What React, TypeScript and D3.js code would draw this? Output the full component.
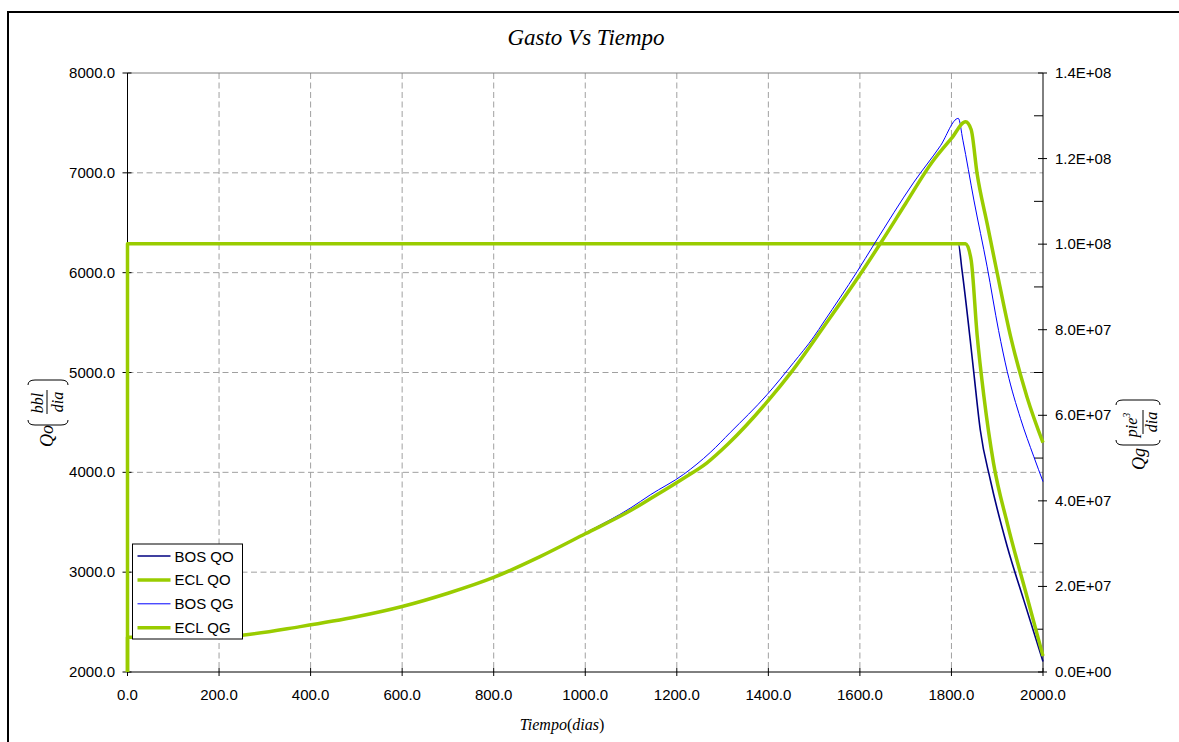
import React from "react";
import * as d3 from "d3";

// Time axis (days)
const timeTicks = [0, 200, 400, 600, 800, 1000, 1200, 1400, 1600, 1800, 2000];
// Oil-rate axis (bbl/dia)
const qoTicks = [2000, 3000, 4000, 5000, 6000, 7000, 8000];
// Gas-rate axis (pie^3/dia)
const qgTicks = [0, 2e7, 4e7, 6e7, 8e7, 1e8, 1.2e8, 1.4e8];
const qgMinorTicks = [1e7, 3e7, 5e7, 7e7, 9e7, 1.1e8, 1.3e8];

// BOS oil rate
const bosQoTime = [0, 0, 1815, 1823, 1841, 1849, 1863, 1885, 1922, 1958, 2000];
const bosQoRate = [0, 6289.8, 6289.8, 6027, 5326, 4992, 4424, 3923, 3255, 2720, 2105];

// ECL oil rate
const eclQoTime = [0, 0, 1831, 1843, 1856, 1871, 1892, 1922, 1965, 2000];
const eclQoRate = [0, 6289.8, 6289.8, 6127, 5380, 4757, 4090, 3489, 2754, 2160];

// BOS gas rate (values in millions)
const bosQgTime = [0, 0, 150, 250, 377, 500, 600, 700, 800, 900, 1000, 1100, 1142, 1215, 1273, 1317, 1397, 1455, 1499, 1521, 1594, 1630, 1718, 1776, 1815, 1825, 1849, 1878, 1903, 1922, 1951, 1980, 2000];
const bosQgRateMM = [0, 8.1, 8.1, 8.6, 10.6, 12.9, 15.3, 18.4, 22.1, 26.9, 32.5, 38.4, 41.4, 46.2, 51.3, 56.0, 64.8, 72.3, 78.3, 81.8, 93.6, 99.8, 114.5, 123.0, 129.4, 124.3, 110.3, 94.7, 79.8, 70.2, 59.2, 50.3, 44.5];

// ECL gas rate (values in millions)
const eclQgTime = [0, 0, 150, 250, 377, 500, 600, 700, 800, 900, 1000, 1100, 1142, 1215, 1266, 1313, 1401, 1448, 1521, 1601, 1645, 1700, 1758, 1800, 1831, 1843, 1856, 1878, 1900, 1929, 1965, 2000];
const eclQgRateMM = [0, 8.1, 8.1, 8.6, 10.6, 12.9, 15.3, 18.4, 22.1, 26.9, 32.3, 37.8, 40.5, 45.3, 48.9, 53.4, 63.6, 69.8, 80.7, 93.0, 100.2, 109.5, 119.2, 124.7, 128.6, 126.8, 116.5, 104.8, 93.2, 78.5, 64.3, 53.6];

const legendNames = ["BOS QO", "ECL QO", "BOS QG", "ECL QG"];

const GREEN = "#99CC00";
const NAVY = "#000080";
const BLUE = "#0000FF";

const W = 1179;
const H = 742;
const plot = { left: 127.5, right: 1043, top: 73, bottom: 672 };

const x = d3.scaleLinear().domain([0, 2000]).range([plot.left, plot.right]);
const yQo = d3.scaleLinear().domain([2000, 8000]).range([plot.bottom, plot.top]);
const yQg = d3.scaleLinear().domain([0, 1.4e8]).range([plot.bottom, plot.top]);

const zip = (t: number[], v: number[], k = 1) => t.map((tt, i) => [tt, v[i] * k] as [number, number]);

const qoLine = d3.line<[number, number]>().x((d) => x(d[0])).y((d) => yQo(d[1])).curve(d3.curveMonotoneX);
const qgLine = d3.line<[number, number]>().x((d) => x(d[0])).y((d) => yQg(d[1])).curve(d3.curveMonotoneX);

const series = [
  { name: legendNames[0], d: qoLine(zip(bosQoTime, bosQoRate))!, color: NAVY, width: 1.6 },
  { name: legendNames[1], d: qoLine(zip(eclQoTime, eclQoRate))!, color: GREEN, width: 3.5 },
  { name: legendNames[2], d: qgLine(zip(bosQgTime, bosQgRateMM, 1e6))!, color: BLUE, width: 1 },
  { name: legendNames[3], d: qgLine(zip(eclQgTime, eclQgRateMM, 1e6))!, color: GREEN, width: 3.5 },
];

const SANS = "'Liberation Sans', Arial, sans-serif";
const SERIF = "'Liberation Serif', 'Times New Roman', serif";

const fmtQo = (v: number) => v.toFixed(1);
const fmtQg = (v: number) => {
  const e = v === 0 ? 0 : Math.floor(Math.log10(v));
  const m = v === 0 ? 0 : v / Math.pow(10, e);
  return `${m.toFixed(1)}E+${String(e).padStart(2, "0")}`;
};

// Rotated rate label: symbol followed by a bracketed fraction
function RateLabel(props: {
  cx: number; cy: number; sym: string; sub: string; num: string; sup?: string; den: string;
  symX: number; symY: number; numY: number; denY: number; pTop: number; pBot: number;
}) {
  const { cx, cy, sym, sub, num, sup, den, symX, symY, numY, denY, pTop, pBot } = props;
  const lp = -23;
  const rp = 22;
  return (
    <g transform={`translate(${cx},${cy}) rotate(-90)`} fontFamily={SERIF} fontStyle="italic" fill="#000">
      <text x={symX} y={symY} fontSize={18} textAnchor="middle">
        {sym}
        {sub}
      </text>
      <path
        d={`M${lp + 5},${pTop} Q${lp},${pTop} ${lp},${pTop + 7} L${lp},${pBot - 7} Q${lp},${pBot} ${lp + 5},${pBot}`}
        fill="none" stroke="#000" strokeWidth={1}
      />
      <path
        d={`M${rp - 5},${pTop} Q${rp},${pTop} ${rp},${pTop + 7} L${rp},${pBot - 7} Q${rp},${pBot} ${rp - 5},${pBot}`}
        fill="none" stroke="#000" strokeWidth={1}
      />
      <text x={sup ? -3 : -1} y={numY} fontSize={16} textAnchor="middle">
        {num}
        {sup ? <tspan fontSize={10} dy={-7}>{sup}</tspan> : null}
      </text>
      <line x1={-12} x2={12} y1={0} y2={0} stroke="#000" strokeWidth={1} />
      <text x={0} y={denY} fontSize={16} textAnchor="middle">{den}</text>
    </g>
  );
}

export default function App() {
  const legend = { x: 132.5, y: 544, w: 110, h: 95 };
  return (
    <svg width={W} height={H} style={{ position: "absolute", left: 0, top: 0, background: "#fff" }}>
      <defs>
        <clipPath id="plotClip">
          <rect x={0} y={plot.top - 2} width={W} height={plot.bottom - plot.top + 2} />
        </clipPath>
      </defs>
      <rect x={0} y={0} width={W} height={H} fill="#fff" />
      {/* outer frame */}
      <rect x={8} y={12} width={W + 10} height={H + 10} fill="none" stroke="#000" strokeWidth={2} />

      {/* title */}
      <text x={586} y={45} textAnchor="middle" fontFamily={SERIF} fontStyle="italic" fontSize={23}>
        Gasto Vs Tiempo
      </text>

      {/* grid */}
      <g stroke="#A0A0A0" strokeWidth={1} strokeDasharray="6,3.5">
        {qoTicks.slice(1, -1).map((v) => (
          <line key={"h" + v} x1={plot.left} x2={plot.right} y1={yQo(v)} y2={yQo(v)} />
        ))}
        {timeTicks.slice(1, -1).map((t) => (
          <line key={"v" + t} x1={x(t)} x2={x(t)} y1={plot.top} y2={plot.bottom} />
        ))}
      </g>
      <line x1={plot.left} x2={plot.right} y1={plot.top} y2={plot.top} stroke="#808080" strokeWidth={1} />

      {/* axes lines */}
      <g stroke="#000" strokeWidth={1}>
        <line x1={plot.left} x2={plot.left} y1={plot.top} y2={plot.bottom} />
        <line x1={plot.right} x2={plot.right} y1={plot.top} y2={plot.bottom} />
        <line x1={plot.left} x2={plot.right} y1={plot.bottom} y2={plot.bottom} />
        {timeTicks.map((t) => (
          <line key={"xt" + t} x1={x(t)} x2={x(t)} y1={plot.bottom - 4} y2={plot.bottom + 4} />
        ))}
        {qoTicks.map((v) => (
          <line key={"lt" + v} x1={plot.left - 5} x2={plot.left + 4} y1={yQo(v)} y2={yQo(v)} />
        ))}
        {qgTicks.map((v) => (
          <line key={"rt" + v} x1={plot.right - 5} x2={plot.right + 4} y1={yQg(v)} y2={yQg(v)} />
        ))}
        {qgMinorTicks.map((v) => (
          <line key={"rm" + v} x1={plot.right - 9} x2={plot.right} y1={yQg(v)} y2={yQg(v)} />
        ))}
      </g>

      {/* tick labels */}
      <g fontFamily={SANS} fontSize={15} fill="#000">
        {timeTicks.map((t) => (
          <text key={"xl" + t} x={x(t)} y={700} textAnchor="middle">{fmtQo(t)}</text>
        ))}
        {qoTicks.map((v) => (
          <text key={"ll" + v} x={115} y={yQo(v) + 5} textAnchor="end">{fmtQo(v)}</text>
        ))}
        {qgTicks.map((v) => (
          <text key={"rl" + v} x={1055} y={yQg(v) + 5} textAnchor="start">{fmtQg(v)}</text>
        ))}
      </g>

      {/* series */}
      <g clipPath="url(#plotClip)" fill="none" strokeLinejoin="round">
        {series.map((s) => (
          <path key={s.name} d={s.d} stroke={s.color} strokeWidth={s.width} />
        ))}
      </g>

      {/* axis titles */}
      <text x={562} y={730} textAnchor="middle" fontFamily={SERIF} fontSize={16}>
        <tspan fontStyle="italic">Tiempo</tspan>
        <tspan>(</tspan>
        <tspan fontStyle="italic">dias</tspan>
        <tspan>)</tspan>
      </text>
      <RateLabel cx={47} cy={402} sym="Q" sub="o" num="bbl" den="dia"
        symX={-34} symY={6} numY={-4} denY={16} pTop={-19} pBot={21} />
      <RateLabel cx={1143} cy={422} sym="Q" sub="g" num="pie" sup="3" den="dia"
        symX={-37} symY={2} numY={-6} denY={14} pTop={-27} pBot={17} />

      {/* legend */}
      <g>
        <rect x={legend.x} y={legend.y} width={legend.w} height={legend.h} fill="#fff" stroke="#000" strokeWidth={1} />
        {series.map((s, i) => {
          const yy = 556 + i * 23.9;
          return (
            <g key={"lg" + s.name}>
              <line x1={137.5} x2={170.5} y1={yy} y2={yy} stroke={s.color} strokeWidth={s.width} />
              <text x={174.5} y={yy + 5.5} fontFamily={SANS} fontSize={15}>{s.name}</text>
            </g>
          );
        })}
      </g>
    </svg>
  );
}
